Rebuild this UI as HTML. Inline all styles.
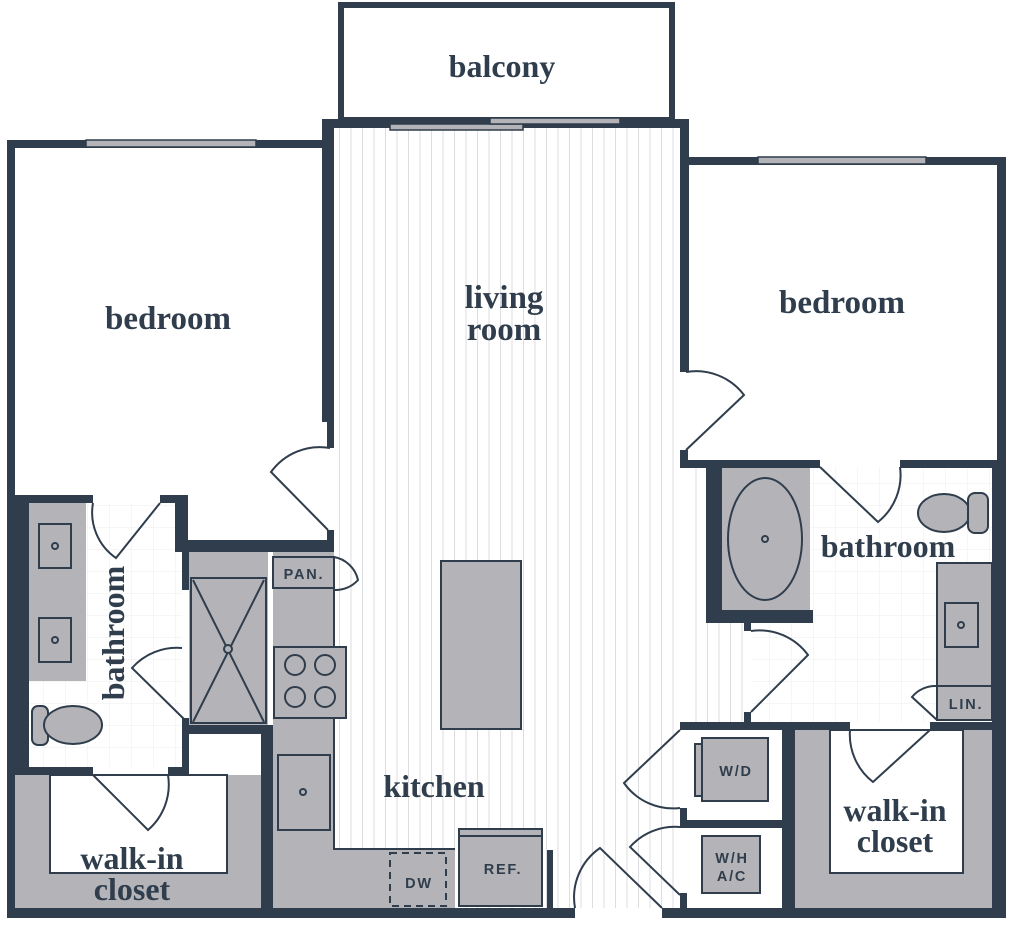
<!DOCTYPE html>
<html><head><meta charset="utf-8"><style>
html,body{margin:0;padding:0;background:#fff;}
svg{display:block;}
.t{font-family:"Liberation Serif",serif;font-weight:bold;fill:#2f3d4c;text-anchor:middle;}
.s{font-family:"Liberation Sans",sans-serif;font-weight:bold;fill:#2f3d4c;text-anchor:middle;font-size:14.5px;letter-spacing:1.8px;}
</style></head><body>
<svg width="1024" height="926" viewBox="0 0 1024 926" xmlns="http://www.w3.org/2000/svg">
<defs>
<pattern id="vl" x="334" y="0" width="11.5" height="10" patternUnits="userSpaceOnUse">
<rect x="5" y="0" width="1" height="10" fill="#dcdde0"/></pattern>
<pattern id="gr" x="0" y="0" width="22" height="22" patternUnits="userSpaceOnUse">
<path d="M22 0V22M0 22H22" stroke="#ececee" stroke-width="1" fill="none"/></pattern>
</defs>
<rect x="334" y="128" width="346" height="780" fill="url(#vl)"/>
<rect x="688" y="467" width="60" height="255" fill="url(#vl)"/>
<rect x="29" y="503" width="153" height="264" fill="url(#gr)"/>
<rect x="810" y="467" width="185" height="255" fill="url(#gr)"/>
<rect x="751" y="623" width="60" height="99" fill="url(#gr)"/>

<g fill="#2f3d4c">
<rect x="341" y="5" width="331" height="115" fill="none" stroke="#2f3d4c" stroke-width="6"/>
<rect x="322" y="119" width="367" height="9"/>
<rect x="7" y="140" width="323" height="8"/>
<rect x="7" y="140" width="8" height="778"/>
<rect x="7" y="495" width="22" height="423"/>
<rect x="322" y="119" width="12" height="303"/>
<rect x="327" y="422" width="7" height="26"/>
<rect x="327" y="530" width="7" height="22"/>
<rect x="7" y="495" width="86" height="8"/>
<rect x="160" y="495" width="28" height="8"/>
<rect x="175" y="495" width="13" height="57"/>
<rect x="175" y="540" width="159" height="12"/>
<rect x="182" y="552" width="7" height="38"/>
<rect x="182" y="718" width="7" height="57"/>
<rect x="182" y="725" width="91" height="9"/>
<rect x="7" y="767" width="86" height="8"/>
<rect x="168" y="767" width="21" height="8"/>
<rect x="261" y="725" width="12" height="190"/>
<rect x="7" y="908" width="568" height="10"/>
<rect x="662" y="908" width="344" height="10"/>
<rect x="547" y="850" width="6" height="60"/>
<rect x="680" y="119" width="9" height="253"/>
<rect x="680" y="157" width="326" height="8"/>
<rect x="997" y="157" width="9" height="761"/>
<rect x="992" y="460" width="14" height="458"/>
<rect x="680" y="450" width="8" height="18"/>
<rect x="680" y="460" width="140" height="8"/>
<rect x="900" y="460" width="100" height="8"/>
<rect x="706" y="468" width="16" height="155"/>
<rect x="706" y="610" width="107" height="13"/>
<rect x="744" y="623" width="7" height="8"/>
<rect x="744" y="712" width="7" height="10"/>
<rect x="680" y="722" width="170" height="8"/>
<rect x="930" y="722" width="66" height="8"/>
<rect x="782" y="722" width="13" height="190"/>
<rect x="680" y="820" width="104" height="8"/>
<rect x="680" y="808" width="7" height="20"/>
<rect x="680" y="893" width="7" height="18"/>
</g>
<g fill="#b4b4b8" stroke="#2f3d4c" stroke-width="1.5">
<rect x="86" y="140" width="170" height="7"/>
<rect x="758" y="157" width="168" height="7"/>
<rect x="390" y="124" width="133" height="6"/>
<rect x="490" y="118" width="130" height="6"/>
</g>

<g fill="#b4b4b8" stroke="#2f3d4c" stroke-width="2">
<rect x="29" y="503" width="57" height="178" stroke="none"/>
<rect x="39" y="524" width="32" height="44"/>
<rect x="39" y="618" width="32" height="44"/>
<rect x="32" y="706" width="16" height="39" rx="6"/>
<ellipse cx="73" cy="725" rx="29" ry="19"/>
<rect x="189" y="552" width="79" height="173" stroke="none"/>
<rect x="191" y="578" width="75" height="145"/>
<path d="M15 775H261V908H15Z" stroke="none"/>
<rect x="50" y="775" width="177" height="98" fill="#fff"/>
<path d="M273 552H334V849H455V908H273Z" stroke="none"/>
<path d="M334 556V849H455" fill="none"/>
<rect x="273" y="557" width="61" height="31"/>
<rect x="274" y="647" width="72" height="71"/>
<rect x="278" y="755" width="52" height="75"/>
<rect x="390" y="853" width="56" height="53" stroke-dasharray="7 5"/>
<rect x="459" y="829" width="83" height="77"/>
<line x1="459" y1="836" x2="542" y2="836"/>
<rect x="441" y="561" width="80" height="168"/>
<rect x="722" y="468" width="88" height="142" stroke="none"/>
<ellipse cx="765" cy="539" rx="37" ry="61"/>
<rect x="937" y="563" width="55" height="157"/>
<line x1="937" y1="686" x2="992" y2="686"/>
<rect x="945" y="603" width="33" height="44"/>
<ellipse cx="944" cy="513" rx="26" ry="19"/>
<rect x="968" y="493" width="20" height="40" rx="7"/>
<path d="M795 730H992V908H795Z" stroke="none"/>
<rect x="830" y="730" width="133" height="143" fill="#fff"/>
<rect x="695" y="744" width="8" height="52"/>
<rect x="702" y="738" width="66" height="63"/>
<rect x="702" y="836" width="58" height="57"/>
</g>
<g fill="none" stroke="#2f3d4c" stroke-width="2">
<path d="M193 580L264 722M264 580L193 722"/>
<circle cx="228" cy="649" r="4" fill="#b4b4b8"/>
<circle cx="295" cy="665" r="10"/><circle cx="325" cy="665" r="10"/>
<circle cx="295" cy="697" r="10"/><circle cx="325" cy="697" r="10"/>
<circle cx="55" cy="546" r="3"/><circle cx="55" cy="640" r="3"/>
<circle cx="303" cy="792" r="3"/>
<circle cx="765" cy="539" r="3"/><circle cx="961" cy="625" r="3"/>
<path d="M330 448A60 60 0 0 0 271 472L328 530"/>
<path d="M686 372A60 60 0 0 1 744 395L686 450"/>
<path d="M93 503A55 55 0 0 0 116 558L160 503"/>
<path d="M182 648A60 60 0 0 0 132 668L185 720"/>
<path d="M93 775L148 830A60 60 0 0 0 168 775"/>
<path d="M334 557A30 30 0 0 1 358 580A30 30 0 0 1 334 590"/>
<path d="M820 467L878 522A60 60 0 0 0 900 467"/>
<path d="M850 730A60 60 0 0 0 873 782L930 730"/>
<path d="M751 631A60 60 0 0 1 808 655L751 712"/>
<path d="M680 730L624 783A60 60 0 0 0 680 808"/>
<path d="M680 827A60 60 0 0 0 630 847L680 895"/>
<path d="M937 686A30 30 0 0 0 912 697L937 720"/>
<path d="M575 908A60 60 0 0 1 600 848L662 908"/>
</g>

<text class="t" x="502" y="77" font-size="32">balcony</text>
<text class="t" x="168" y="329" font-size="33">bedroom</text>
<text class="t" x="504" y="308" font-size="33">living</text>
<text class="t" x="504" y="340" font-size="33">room</text>
<text class="t" x="842" y="313" font-size="33">bedroom</text>
<text class="t" x="888" y="557" font-size="32">bathroom</text>
<text class="t" x="0" y="0" font-size="32" transform="translate(124,633) rotate(-90)">bathroom</text>
<text class="t" x="434" y="797" font-size="32">kitchen</text>
<text class="t" x="132" y="869" font-size="32">walk-in</text>
<text class="t" x="132" y="900" font-size="32">closet</text>
<text class="t" x="895" y="821" font-size="32">walk-in</text>
<text class="t" x="895" y="852" font-size="32">closet</text>
<text class="s" x="304" y="579">PAN.</text>
<text class="s" x="419" y="888">DW</text>
<text class="s" x="503" y="874">REF.</text>
<text class="s" x="736" y="776">W/D</text>
<text class="s" x="732" y="863">W/H</text>
<text class="s" x="732" y="881">A/C</text>
<text class="s" x="966" y="709">LIN.</text>
</svg>
</body></html>
